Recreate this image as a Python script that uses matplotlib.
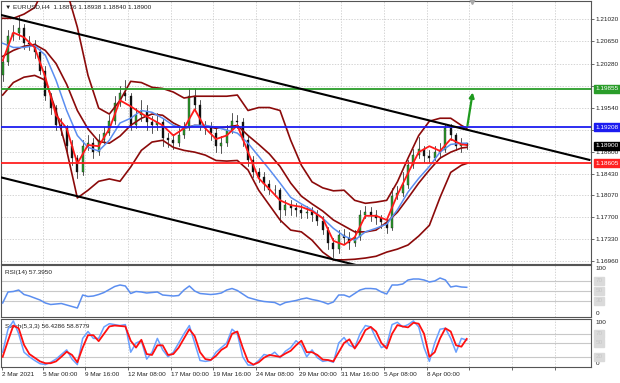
import numpy as np
import matplotlib
matplotlib.use("Agg")
import matplotlib.pyplot as plt
from matplotlib.patches import Rectangle
from matplotlib.transforms import blended_transform_factory

plt.rcParams["font.family"] = ["Liberation Sans", "DejaVu Sans"]

# EURUSD H4, one candle per two H4 bars
first_open = 1.2008
close = [1.2030, 1.2075, 1.2080, 1.2087, 1.2063, 1.2060, 1.2047, 1.2016, 1.1974, 1.1953,
         1.1924, 1.1919, 1.1890, 1.1869, 1.1845, 1.1890, 1.1895, 1.1879, 1.1899, 1.1912,
         1.1932, 1.1961, 1.1979, 1.1974, 1.1924, 1.1941, 1.1949, 1.1929, 1.1924, 1.1929,
         1.1902, 1.1899, 1.1895, 1.1907, 1.1919, 1.1974, 1.1958, 1.1924, 1.1919, 1.1911,
         1.1890, 1.1894, 1.1916, 1.1932, 1.1929, 1.1899, 1.1865, 1.1845, 1.1838, 1.1825,
         1.1815, 1.1815, 1.1781, 1.1790, 1.1785, 1.1781, 1.1776, 1.1778, 1.1773, 1.1764,
         1.1748, 1.1727, 1.1717, 1.1739, 1.1734, 1.1727, 1.1737, 1.1773, 1.1778, 1.1774,
         1.1768, 1.1761, 1.1751, 1.1806, 1.1811, 1.1823, 1.1857, 1.1874, 1.1885, 1.1872,
         1.1870, 1.1879, 1.1882, 1.1919, 1.1907, 1.1890, 1.1894, 1.1890]
high = [1.2038, 1.2084, 1.2092, 1.2109, 1.2094, 1.2074, 1.2067, 1.2053, 1.2023, 1.1979,
        1.1959, 1.1936, 1.1924, 1.1899, 1.1874, 1.1899, 1.1907, 1.1902, 1.1909, 1.1922,
        1.1941, 1.1973, 1.1991, 1.2000, 1.1979, 1.1953, 1.1966, 1.1958, 1.1939, 1.1944,
        1.1936, 1.1912, 1.1909, 1.1919, 1.1929, 1.1986, 1.1986, 1.1966, 1.1932, 1.1929,
        1.1919, 1.1906, 1.1924, 1.1944, 1.1942, 1.1936, 1.1906, 1.1872, 1.1852, 1.1845,
        1.1832, 1.1823, 1.1818, 1.1798, 1.1798, 1.1793, 1.1790, 1.1788, 1.1786, 1.1781,
        1.1771, 1.1754, 1.1734, 1.1748, 1.1749, 1.1744, 1.1748, 1.1781, 1.1788, 1.1786,
        1.1781, 1.1774, 1.1768, 1.1818, 1.1822, 1.1845, 1.1865, 1.1885, 1.1904, 1.1890,
        1.1882, 1.1889, 1.1895, 1.1927, 1.1926, 1.1912, 1.1902, 1.18938]
low = [1.1999, 1.2026, 1.2067, 1.2070, 1.2053, 1.2050, 1.2037, 1.2010, 1.1966, 1.1943,
       1.1916, 1.1907, 1.1879, 1.1857, 1.1835, 1.1840, 1.1882, 1.1869, 1.1874, 1.1894,
       1.1907, 1.1926, 1.1956, 1.1966, 1.1916, 1.1919, 1.1932, 1.1916, 1.1912, 1.1916,
       1.1890, 1.1887, 1.1885, 1.1889, 1.1902, 1.1916, 1.1949, 1.1916, 1.1909, 1.1899,
       1.1879, 1.1877, 1.1889, 1.1911, 1.1919, 1.1889, 1.1855, 1.1837, 1.1828, 1.1815,
       1.1808, 1.1805, 1.1761, 1.1774, 1.1774, 1.1771, 1.1768, 1.1768, 1.1764, 1.1756,
       1.1741, 1.1717, 1.1702, 1.1709, 1.1724, 1.1717, 1.1721, 1.1731, 1.1768, 1.1764,
       1.1758, 1.1751, 1.1743, 1.1748, 1.1801, 1.1805, 1.1818, 1.1852, 1.1869, 1.1862,
       1.1862, 1.1865, 1.1869, 1.1879, 1.1899, 1.1882, 1.1879, 1.18840]

# indicator lines, read at every other candle (plus the last one)
ind_idx = list(range(0, 88, 2)) + [87]
red_ma = [1.2033, 1.2080, 1.2072, 1.2055, 1.2005, 1.1941, 1.1919, 1.1860, 1.1891, 1.1889,
          1.1918, 1.1966, 1.1956, 1.1944, 1.1934, 1.1924, 1.1907, 1.1919, 1.1951, 1.1919,
          1.1901, 1.1907, 1.1924, 1.1879, 1.1835, 1.1817, 1.1798, 1.1790, 1.1787, 1.1780,
          1.1768, 1.1730, 1.1723, 1.1736, 1.1772, 1.1772, 1.1765, 1.1807, 1.1844, 1.1879,
          1.1889, 1.1881, 1.1901, 1.1892, 1.1891]
blue_ma = [1.2062, 1.2055, 1.2055, 1.2058, 1.2042, 1.2000, 1.1949, 1.1907, 1.1887, 1.1881,
           1.1899, 1.1928, 1.1936, 1.1949, 1.1946, 1.1936, 1.1924, 1.1919, 1.1924, 1.1924,
           1.1921, 1.1916, 1.1911, 1.1894, 1.1872, 1.1850, 1.1827, 1.1803, 1.1792, 1.1782,
           1.1768, 1.1751, 1.1738, 1.1731, 1.1745, 1.1751, 1.1758, 1.1782, 1.1812, 1.1835,
           1.1855, 1.1879, 1.1892, 1.1894, 1.1894]
band_upper = [1.2104, 1.2104, 1.2111, 1.2122, 1.2159, 1.2176, 1.2151, 1.2089, 1.2008, 1.1953,
              1.1943, 1.1966, 1.1998, 1.1996, 1.1988, 1.1986, 1.1980, 1.1970, 1.1973, 1.1973,
              1.1973, 1.1973, 1.1975, 1.1949, 1.1954, 1.1954, 1.1949, 1.1899, 1.1857, 1.1829,
              1.1819, 1.1814, 1.1815, 1.1798, 1.1793, 1.1795, 1.1798, 1.1829, 1.1869, 1.1907,
              1.1931, 1.1936, 1.1936, 1.1924, 1.1919]
band_mid = [1.2040, 1.2050, 1.2057, 1.2060, 1.2050, 1.2028, 1.1993, 1.1949, 1.1918, 1.1897,
            1.1894, 1.1906, 1.1924, 1.1936, 1.1943, 1.1941, 1.1928, 1.1919, 1.1924, 1.1923,
            1.1919, 1.1921, 1.1924, 1.1907, 1.1892, 1.1876, 1.1855, 1.1827, 1.1805, 1.1792,
            1.1780, 1.1765, 1.1755, 1.1745, 1.1745, 1.1748, 1.1761, 1.1778, 1.1802, 1.1827,
            1.1849, 1.1869, 1.1879, 1.1886, 1.1887]
band_lower = [1.1975, 1.1996, 1.2005, 1.2008, 1.2000, 1.1949, 1.1882, 1.1802, 1.1815, 1.1830,
              1.1834, 1.1830, 1.1854, 1.1882, 1.1896, 1.1899, 1.1887, 1.1882, 1.1879, 1.1874,
              1.1865, 1.1864, 1.1865, 1.1849, 1.1815, 1.1790, 1.1765, 1.1748, 1.1745, 1.1731,
              1.1711, 1.1698, 1.1698, 1.1699, 1.1701, 1.1704, 1.1711, 1.1716, 1.1723, 1.1738,
              1.1756, 1.1803, 1.1845, 1.1857, 1.1860]

rsi = [26, 48, 49, 52, 43, 40, 36, 32, 26, 23, 24, 25, 22, 19, 16, 42, 39, 40, 43, 47,
       53, 59, 62, 60, 45, 49, 48, 46, 47, 48, 42, 41, 40, 41, 52, 60, 50, 45, 44, 43,
       44, 46, 52, 55, 51, 44, 37, 34, 31, 29, 28, 27, 22, 27, 29, 31, 34, 36, 33, 31,
       28, 24, 28, 42, 42, 38, 45, 52, 55, 55, 54, 48, 44, 62, 62, 64, 72, 74, 74, 72,
       68, 70, 76, 72, 58, 60, 58, 57.395]
stoch_main = [30, 80, 98, 70, 30, 20, 12, 5, 3, 8, 15, 25, 35, 15, 3, 60, 75, 60, 60, 85,
              92, 90, 88, 90, 30, 50, 55, 15, 30, 60, 35, 20, 30, 50, 70, 88, 50, 12, 10, 12,
              30, 40, 50, 80, 70, 20, 2, 2, 12, 25, 22, 30, 18, 32, 40, 55, 45, 20, 35, 18,
              10, 12, 8, 50, 62, 45, 40, 70, 88, 85, 60, 40, 45, 90, 95, 85, 90, 98, 85, 40,
              10, 50, 80, 82, 60, 30, 60, 56.4286]
stoch_signal = [20, 55, 88, 82, 46, 26, 18, 10, 6, 6, 10, 20, 31, 24, 8, 40, 67, 67, 54, 70,
                86, 88, 87, 86, 55, 40, 57, 26, 24, 45, 45, 24, 26, 40, 60, 80, 65, 30, 15, 13,
                22, 35, 42, 70, 75, 40, 10, 3, 8, 18, 24, 22, 20, 27, 33, 45, 55, 30, 30, 24,
                14, 13, 10, 30, 50, 58, 38, 55, 78, 85, 75, 50, 38, 70, 89, 86, 84, 94, 92, 70,
                20, 30, 60, 82, 75, 45, 42, 58.8779]

level_green = 1.19855
level_blue = 1.19208
level_red = 1.18605
last_price = 1.18900
trend_upper = [(0, 1.2110), (221, 1.1866)]
trend_lower = [(0, 1.1837), (150, 1.1671)]
arrow_from = (175.1, 1.1919)
arrow_to = (177.4, 1.1984)

price_ticks = [1.21020, 1.20650, 1.20280, 1.19910, 1.19540, 1.19170,
               1.18800, 1.18430, 1.18070, 1.17700, 1.17330, 1.16960]
hidden_ticks = [1.19910, 1.19170]   # covered by the level labels
date_ticks = [16, 32, 48, 64, 80, 96, 112, 128, 144, 160]
date_labels = ["5 Mar 00:00", "9 Mar 16:00", "12 Mar 08:00", "17 Mar 00:00", "19 Mar 16:00",
               "24 Mar 08:00", "29 Mar 00:00", "31 Mar 16:00", "5 Apr 08:00", "8 Apr 00:00"]
grid_bars = [16, 32, 48, 64, 80, 96, 112, 128, 144, 160, 176, 192, 208]

W, H = 620, 383
FS = 4.6
BAND = "#8b0a0a"
GRID = "#c4c4c4"
AXC = "#555555"

bars = 2 * np.arange(len(close)) + 1
ind_bars = 2 * np.array(ind_idx) + 1
opens = [first_open] + close[:-1]
xlim = (1 / 2.667, 591 / 2.667)


def panel(top_px, bottom_px):
    return fig.add_axes([1 / W, 1 - bottom_px / H, 590 / W, (bottom_px - top_px) / H])


def style(ax):
    ax.set_xlim(*xlim)
    ax.set_facecolor("white")
    for s in ax.spines.values():
        s.set_color(AXC)
        s.set_linewidth(0.8)
    ax.set_xticks(grid_bars)
    ax.tick_params(axis="x", length=0, labelbottom=False)
    for gb in grid_bars:
        ax.axvline(gb, color=GRID, lw=0.5, ls=(0, (2, 2)), zorder=0)
    ax.yaxis.tick_right()


def side_label(ax, y, text, fc, tc="white"):
    tr = blended_transform_factory(ax.transAxes, ax.transData)
    ax.annotate(text, xy=(1, y), xycoords=tr, xytext=(3.3, 0), textcoords="offset points",
                va="center", ha="left", fontsize=FS, color=tc, zorder=20,
                annotation_clip=False,
                bbox=dict(boxstyle="square,pad=0.22", fc=fc, ec=fc))


fig = plt.figure(figsize=(W / 100, H / 100), dpi=100)

# ---- main price panel
ax = panel(0.5, 264)
style(ax)
ax.set_ylim(1.16910, 1.21339)
ax.set_yticks(price_ticks)
ax.set_yticklabels(["" if p in hidden_ticks else f"{p:.5f}" for p in price_ticks])
ax.tick_params(axis="y", right=True, length=2, width=0.6, color=AXC, pad=1.5,
               labelsize=FS, labelcolor="#222222")
for p in price_ticks:
    ax.axhline(p, color=GRID, lw=0.5, ls=(0, (2, 2)), zorder=0)

for b, o, h, l, c in zip(bars, opens, high, low, close):
    ax.plot([b, b], [l, h], color="#111111", lw=0.5, zorder=3)
    up = c >= o
    ax.add_patch(Rectangle((b - 0.4, min(o, c)), 0.8, max(abs(c - o), 0.00004),
                           fc="#2e9e2e" if up else "#111111", ec="#111111", lw=0.25,
                           zorder=4))

for band in (band_upper, band_mid, band_lower):
    ax.plot(ind_bars, band, color=BAND, lw=1.2, zorder=5)
ax.plot(ind_bars, blue_ma, color="#5b8ef0", lw=1.1, zorder=6)
ax.plot(ind_bars, red_ma, color="#ff1a1a", lw=1.3, zorder=7)

ax.axhline(level_green, color="#2a9d2a", lw=1.3, zorder=8)
ax.axhline(level_blue, color="#1c1cf0", lw=1.3, zorder=8)
ax.axhline(level_red, color="#ff2020", lw=1.3, zorder=8)
for (x0, y0), (x1, y1) in [trend_upper, trend_lower]:
    ax.plot([x0, x1], [y0, y1], color="black", lw=1.5, zorder=9)
ax.annotate("", xy=arrow_to, xytext=arrow_from,
            arrowprops=dict(arrowstyle="-|>", color="#1e9a1e", lw=1.6, mutation_scale=7),
            zorder=10)

side_label(ax, level_green, f"{level_green:.5f}", "#2a9d2a")
side_label(ax, level_blue, f"{level_blue:.5f}", "#1c1cf0")
side_label(ax, last_price, f"{last_price:.5f}", "black")
side_label(ax, level_red, f"{level_red:.5f}", "#ff2020")
ax.plot([bars[-1] + 2], [1.21339], marker="v", color="#a8a8a8", ms=4, clip_on=False, zorder=10)

ax.text(0.006, 0.985, "\u25bc EURUSD,H4  1.18876 1.18938 1.18840 1.18900",
        transform=ax.transAxes, fontsize=FS, color="#222222", va="top", ha="left",
        family=["Liberation Sans", "DejaVu Sans"], zorder=20)

# ---- RSI panel
ax2 = panel(265, 317)
style(ax2)
ax2.set_ylim(-2, 102)
ax2.set_yticks([])
for lv in [70, 50, 30]:
    ax2.axhline(lv, color="#c8c8c8", lw=0.8, zorder=1)
    side_label(ax2, lv, f"{lv}", "#dadada", "#c6c6c6")
ax2.plot(bars, rsi, color="#5b8ef0", lw=1.1, zorder=5)
ax2.text(0.006, 0.9, f"RSI(14) {rsi[-1]:.4f}", transform=ax2.transAxes, fontsize=FS,
         color="#222222", va="top", ha="left")
tr2 = blended_transform_factory(ax2.transAxes, ax2.transData)
ax2.annotate("100", xy=(1, 100), xycoords=tr2, xytext=(3.3, 0), textcoords="offset points",
             va="top", ha="left", fontsize=FS, color="#222222", annotation_clip=False)
ax2.annotate("0", xy=(1, 0), xycoords=tr2, xytext=(3.3, 0), textcoords="offset points",
             va="bottom", ha="left", fontsize=FS, color="#222222", annotation_clip=False)

# ---- Stochastic panel
ax3 = panel(319, 367)
style(ax3)
ax3.set_ylim(-2.2, 102.2)
ax3.set_yticks([])
for lv in [70, 50, 20]:
    ax3.axhline(lv, color="#c8c8c8", lw=0.8, zorder=1)
    side_label(ax3, lv, f"{lv}", "#dadada", "#c6c6c6")
ax3.plot(bars, stoch_main, color="#6aa0ff", lw=1.1, zorder=5)
ax3.plot(bars, stoch_signal, color="#ff1010", lw=1.3, zorder=6)
ax3.text(0.006, 0.9, f"Stoch(5,3,3) {stoch_main[-1]:.4f} {stoch_signal[-1]:.4f}",
         transform=ax3.transAxes, fontsize=FS, color="#222222", va="top", ha="left")
tr3 = blended_transform_factory(ax3.transAxes, ax3.transData)
ax3.annotate("100", xy=(1, 100), xycoords=tr3, xytext=(3.3, 0), textcoords="offset points",
             va="top", ha="left", fontsize=FS, color="#222222", annotation_clip=False)
ax3.annotate("0", xy=(1, 0), xycoords=tr3, xytext=(3.3, 0), textcoords="offset points",
             va="bottom", ha="left", fontsize=FS, color="#222222", annotation_clip=False)

ax3.set_xticks([xlim[0] + 0.4] + date_ticks + [176, 192, 208])
ax3.set_xticklabels(["2 Mar 2021"] + date_labels + ["", "", ""])
ax3.tick_params(axis="x", length=2, width=0.6, color=AXC, labelbottom=True,
                labelsize=FS, labelcolor="#222222", pad=1.5)
for lab in ax3.get_xticklabels():
    lab.set_ha("left")

fig.savefig("out.png", dpi=100, facecolor="white")
